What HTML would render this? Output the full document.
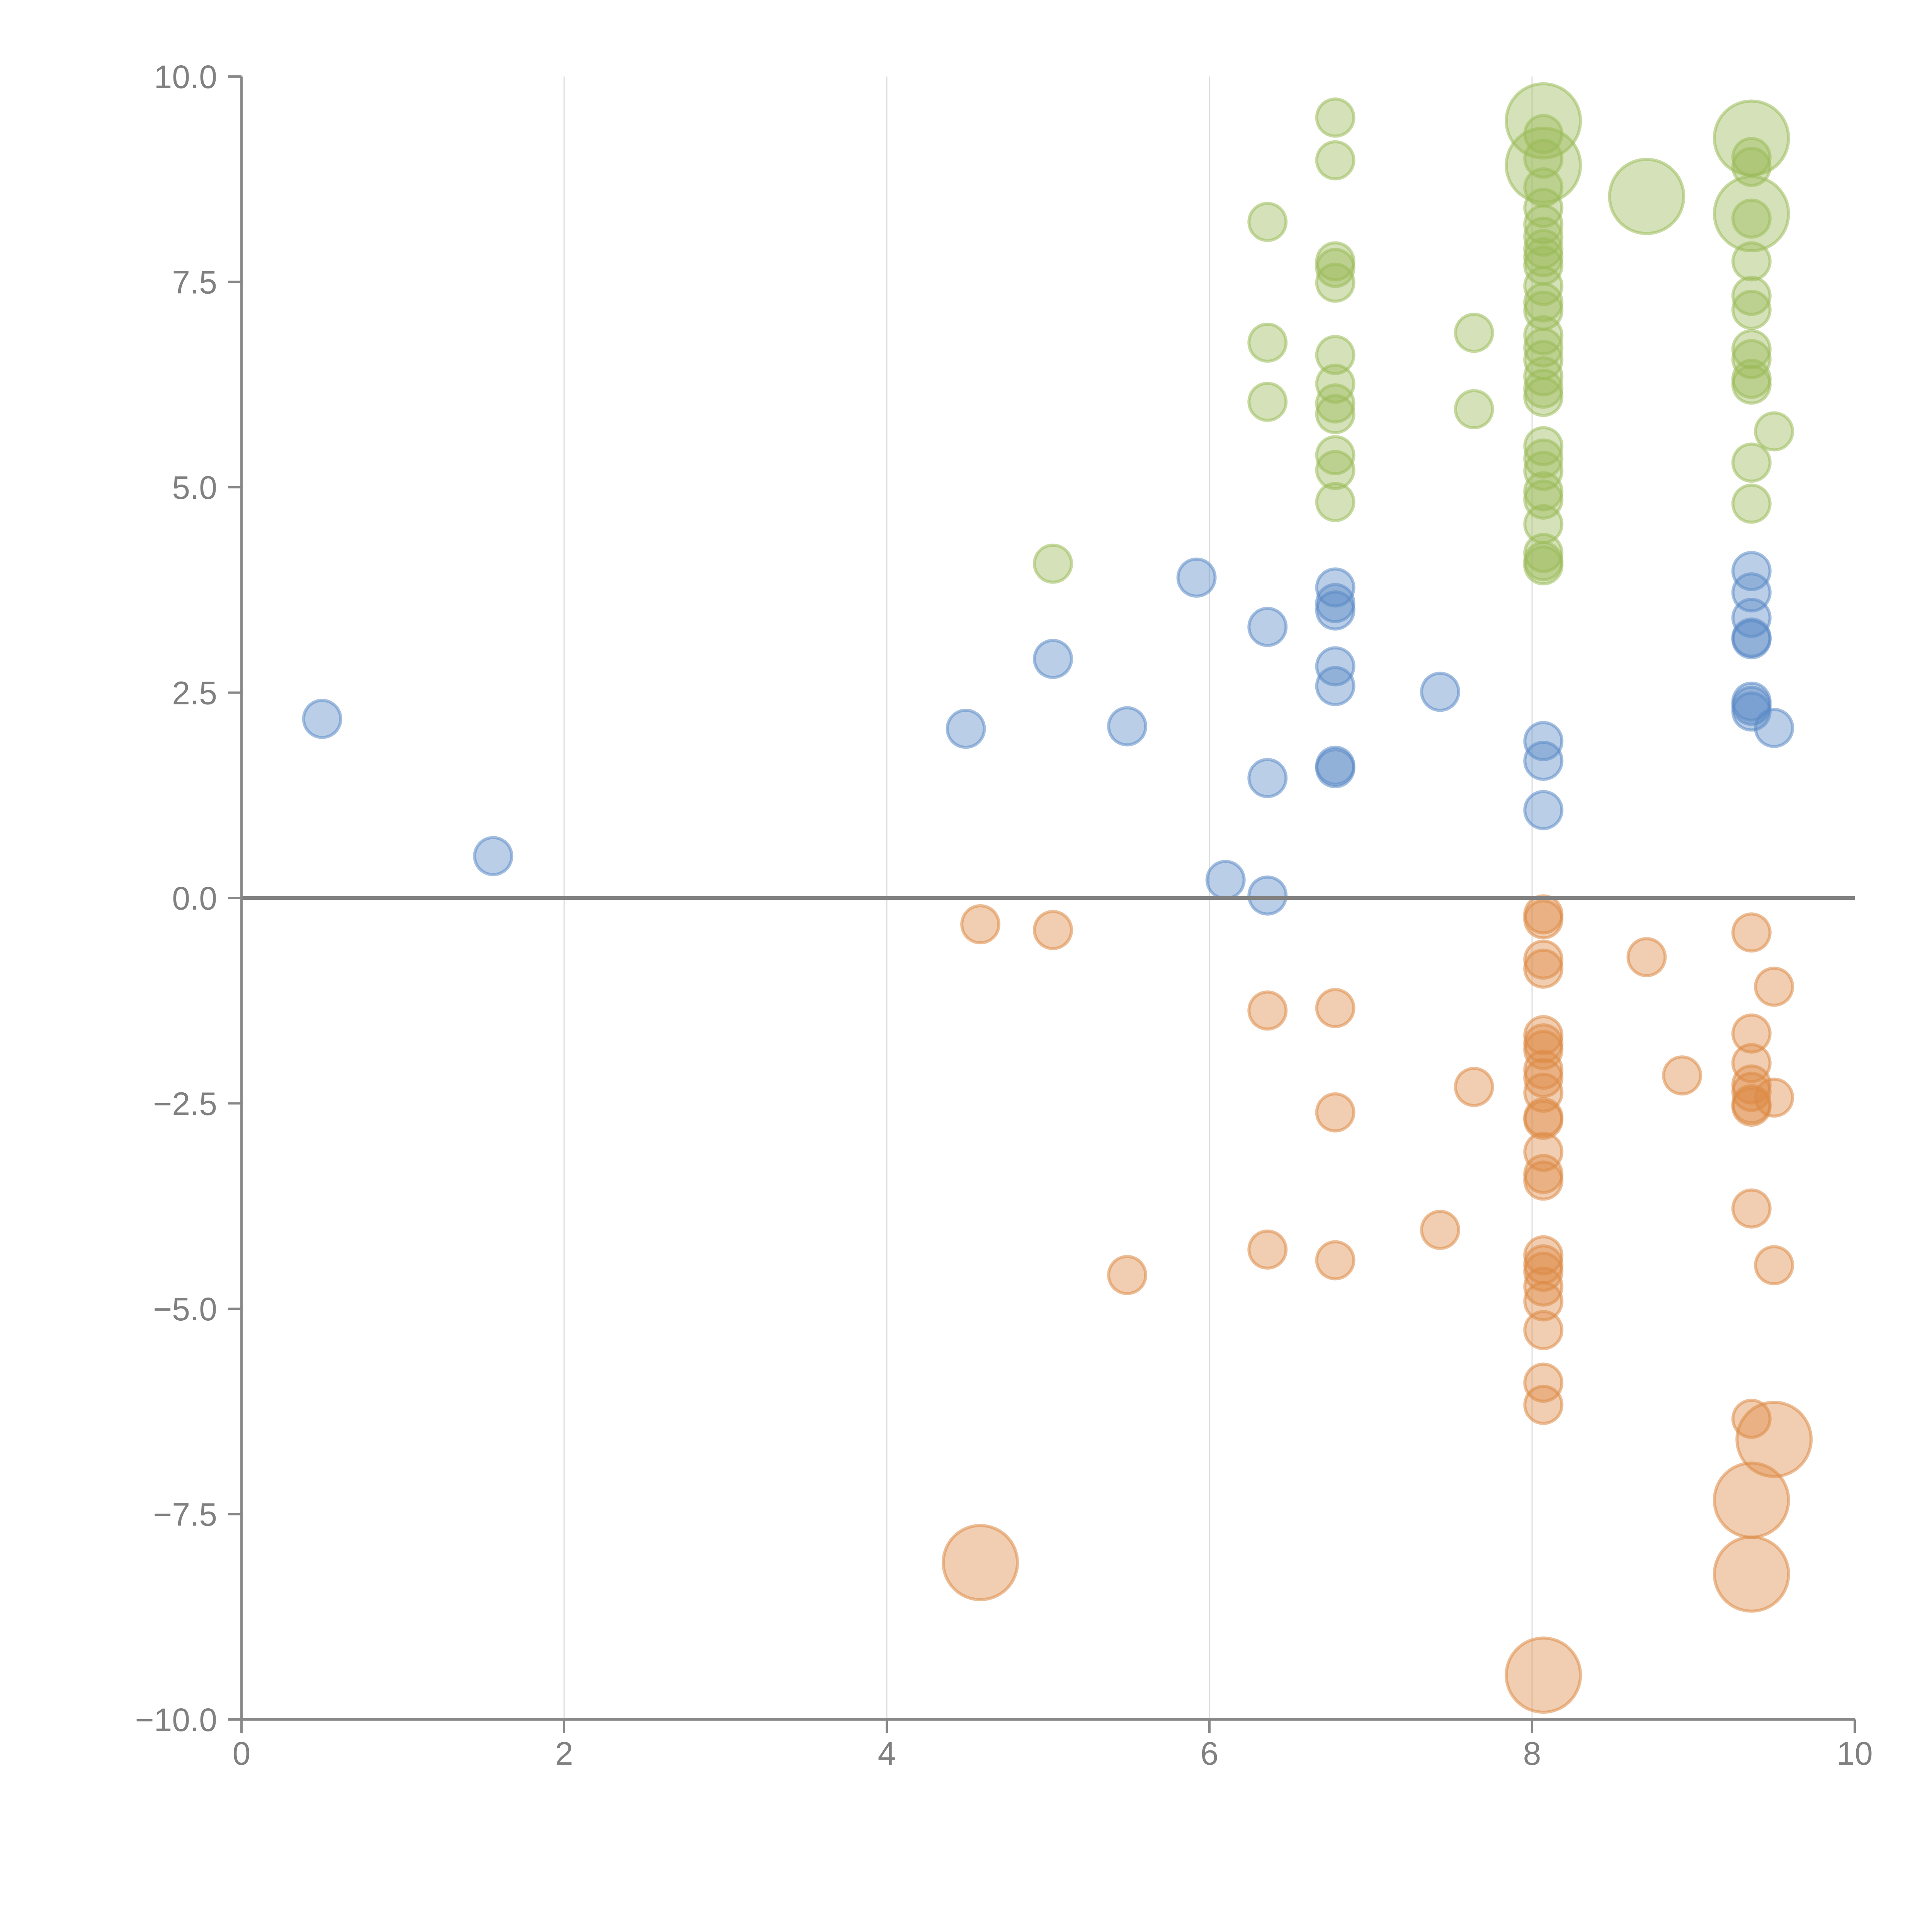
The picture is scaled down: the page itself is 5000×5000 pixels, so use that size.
<!DOCTYPE html>
<html><head><meta charset="utf-8"><style>
html,body{margin:0;padding:0;background:#fff;}
svg{display:block;font-family:"Liberation Sans",Arial,sans-serif;}
</style></head><body>
<svg id="chart" width="5000" height="5000" viewBox="0 0 5000 5000" xmlns="http://www.w3.org/2000/svg">
<g id="grid"></g>
<g id="marks"></g>
<g id="axes"></g>
</svg>
<script>
const xTicks = [0, 2, 4, 6, 8, 10];
const yTicks = [-10, -7.5, -5, -2.5, 0, 2.5, 5, 7.5, 10];
const yTickLabels = ["\u221210.0","\u22127.5","\u22125.0","\u22122.5","0.0","2.5","5.0","7.5","10.0"];

const blueX = [0.5,1.56,4.49,5.03,5.49,5.92,6.1,6.36,6.36,6.36,6.78,6.78,6.78,6.78,6.78,6.78,6.78,7.43,8.07,8.07,8.07,9.36,9.36,9.36,9.36,9.36,9.36,9.36,9.36,9.5];
const blueY = [2.18,0.51,2.06,2.91,2.09,3.9,0.22,3.3,1.46,0.03,3.78,3.59,3.5,2.82,2.58,1.61,1.58,2.51,1.91,1.67,1.07,3.98,3.72,3.41,3.17,3.15,2.39,2.34,2.27,2.07];
const blueS = [1,1,1,1,1,1,1,1,1,1,1,1,1,1,1,1,1,1,1,1,1,1,1,1,1,1,1,1,1,1];

const orangeX = [4.58,5.03,6.36,6.78,6.78,6.36,6.78,5.49,7.43,7.64,8.71,8.93,
 8.07,8.07,8.07,8.07,8.07,8.07,8.07,8.07,8.07,8.07,8.07,8.07,8.07,8.07,8.07,8.07,8.07,8.07,8.07,8.07,8.07,8.07,8.07,8.07,
 9.36,9.36,9.36,9.36,9.36,9.36,9.36,9.36,9.36,9.36,9.36,
 9.5,9.5,9.5,9.5,4.58];
const orangeY = [-0.32,-0.39,-1.37,-1.34,-2.61,-4.28,-4.41,-4.59,-4.04,-2.3,-0.72,-2.16,
 -0.2,-0.26,-0.75,-0.86,-1.67,-1.77,-1.85,-2.09,-2.19,-2.37,-2.67,-2.7,-3.09,-3.36,-3.44,-4.35,-4.46,-4.55,-4.73,-4.91,-5.26,-5.9,-6.17,-9.46,
 -0.42,-1.65,-2.01,-2.27,-2.36,-2.51,-2.54,-3.78,-6.34,-7.33,-8.23,
 -1.08,-2.43,-4.47,-6.59,-8.09];
const orangeS = [1,1,1,1,1,1,1,1,1,1,1,1,
 1,1,1,1,1,1,1,1,1,1,1,1,1,1,1,1,1,1,1,1,1,1,1,2,
 1,1,1,1,1,1,1,1,1,2,2,
 1,1,1,2,2];

const greenX = [5.03,6.36,6.36,6.36,6.78,6.78,6.78,6.78,6.78,6.78,6.78,6.78,6.78,6.78,6.78,6.78,7.64,7.64,8.71,
 8.07,8.07,8.07,8.07,8.07,8.07,8.07,8.07,8.07,8.07,8.07,8.07,8.07,8.07,8.07,8.07,8.07,8.07,8.07,8.07,8.07,8.07,8.07,8.07,8.07,8.07,8.07,8.07,8.07,
 9.36,9.36,9.36,9.36,9.36,9.36,9.36,9.36,9.36,9.36,9.36,9.36,9.36,9.36,9.5];
const greenY = [4.07,8.23,6.76,6.04,9.5,8.98,7.75,7.67,7.49,6.61,6.26,6.02,5.89,5.39,5.21,4.82,6.88,5.95,8.54,
 9.46,8.92,9.3,9.0,8.65,8.4,8.2,8.05,7.9,7.8,7.7,7.45,7.25,7.15,6.85,6.7,6.55,6.35,6.2,6.1,5.5,5.35,5.2,4.95,4.85,4.55,4.2,4.1,4.05,
 9.25,8.33,9.02,8.9,8.27,7.75,7.33,7.16,6.68,6.56,6.32,6.25,5.3,4.8,5.68];
const greenS = [1,1,1,1,1,1,1,1,1,1,1,1,1,1,1,1,1,1,2,
 2,2,1,1,1,1,1,1,1,1,1,1,1,1,1,1,1,1,1,1,1,1,1,1,1,1,1,1,1,
 2,2,1,1,1,1,1,1,1,1,1,1,1,1,1];

const X0=625, X1=4800, Y0=4450, Y1=198;
function sx(v){return X0+(v-0)/(10-0)*(X1-X0);}
function sy(v){return Y0-(v+10)/20*(Y0-Y1);}
function rad(s){return s===2?96:48;}
const NS="http://www.w3.org/2000/svg";
function mk(tag,attrs,parent){const e=document.createElementNS(NS,tag);for(const k in attrs)e.setAttribute(k,attrs[k]);parent.appendChild(e);return e;}

const grid=document.getElementById('grid');
xTicks.forEach(t=>{
  if(t===0||t===10) return;
  const l=mk('line',{x1:sx(t),x2:sx(t),y1:Y1,y2:Y0,stroke:'#dcdcdc','stroke-width':3},grid);
  
  
});

const marks=document.getElementById('marks');
function series(xs,ys,ss,color,name){
  const g=mk('g',{},marks);
  
  
  xs.forEach((x,i)=>{
    const c=mk('circle',{cx:sx(x),cy:sy(ys[i]),r:rad(ss[i]),fill:color,'fill-opacity':0.42,stroke:color,'stroke-opacity':0.55,'stroke-width':8},g);
    
    
  });
}
series(blueX,blueY,blueS,'#5b8ac6','blue');
series(orangeX,orangeY,orangeS,'#dd8a45','orange');
series(greenX,greenY,greenS,'#9bbb59','green');

const axes=document.getElementById('axes');
const zl=mk('line',{x1:X0,x2:X1,y1:sy(0),y2:sy(0),stroke:'#808080','stroke-width':10},axes);


const ya=mk('line',{x1:X0,x2:X0,y1:Y1,y2:Y0,stroke:'#888','stroke-width':6},axes);


const xa=mk('line',{x1:X0,x2:X1,y1:Y0,y2:Y0,stroke:'#888','stroke-width':6},axes);


yTicks.forEach((t,i)=>{
  const tk=mk('line',{x1:X0-35,x2:X0,y1:sy(t),y2:sy(t),stroke:'#888','stroke-width':6},axes);
  
  
  const tx=mk('text',{x:X0-63,y:sy(t)+30,'text-anchor':'end','font-size':84,fill:'#808080'},axes);
  tx.textContent=yTickLabels[i];
  
  
});
xTicks.forEach(t=>{
  const tk=mk('line',{x1:sx(t),x2:sx(t),y1:Y0,y2:Y0+35,stroke:'#888','stroke-width':6},axes);
  
  
  const tx=mk('text',{x:sx(t),y:Y0+117,'text-anchor':'middle','font-size':84,fill:'#808080'},axes);
  tx.textContent=String(t);
  
  
});
</script>
</body></html>
